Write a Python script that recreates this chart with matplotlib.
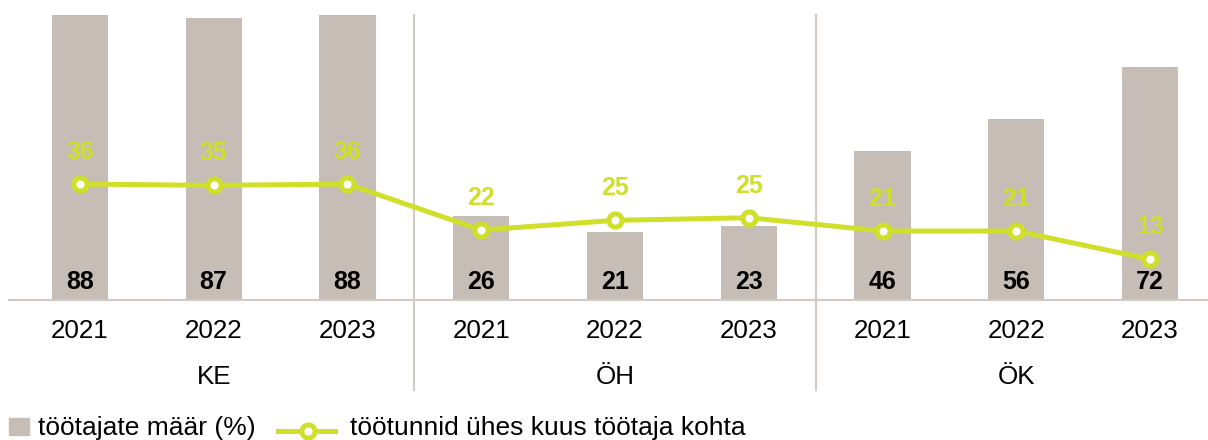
import matplotlib
matplotlib.use('Agg')
import matplotlib.pyplot as plt
import matplotlib.transforms as mtransforms
from matplotlib.lines import Line2D
from matplotlib.patches import Rectangle

plt.rcParams['font.family'] = ['Liberation Sans', 'DejaVu Sans']

# data
groups = ['KE', 'ÖH', 'ÖK']
years = ['2021', '2022', '2023']
employee_share = [88, 87, 88, 26, 21, 23, 46, 56, 72]
hours_per_employee = [35.8, 35.4, 35.8, 21.6, 24.6, 25.4, 21.3, 21.3, 12.6]
bar_name = 'töötajate määr (%)'
line_name = 'töötunnid ühes kuus töötaja kohta'

bar_color = '#c6bdb6'
line_color = '#cfdf2a'
grid_color = '#d2cbc5'

W, H = 1208, 440
fig = plt.figure(figsize=(W / 100, H / 100), dpi=100)
# axes: baseline at y=300px, top at 15px, x from 13px to 1217px
ax = fig.add_axes([13 / W, (H - 300) / H, (1217 - 13) / W, 285 / H])

x = list(range(len(employee_share)))
ax.bar(x, employee_share, width=0.42, color=bar_color, zorder=1)
ax.plot(x, hours_per_employee, color=line_color, lw=3.6, marker='o', ms=9.5,
        mfc='white', mec=line_color, mew=3.6, zorder=3)

for xi, v in zip(x, employee_share):
    ax.text(xi, 5.6, f'{v}', ha='center', va='center', fontsize=18,
            fontweight='bold', color='black', zorder=4)
for xi, v in zip(x, hours_per_employee):
    ax.annotate(f'{v:.0f}', (xi, v), xytext=(0, 23), textcoords='offset points',
                ha='center', va='center', fontsize=18, fontweight='bold',
                color=line_color, zorder=4)

ax.set_xlim(-0.5, 8.5)
ax.set_ylim(0, 88)
for s in ['top', 'right', 'left']:
    ax.spines[s].set_visible(False)
ax.spines['bottom'].set_color(grid_color)
ax.spines['bottom'].set_linewidth(1.5)
ax.set_xticks([])
ax.set_yticks([])

trans = mtransforms.blended_transform_factory(ax.transData, ax.transAxes)
# baseline extends slightly left of the axes
ax.plot([-0.53, -0.5], [0, 0], color=grid_color, lw=1.5, transform=trans, clip_on=False)
for sep in [2.5, 5.5]:
    ax.plot([sep, sep], [1.0, -0.316], color=grid_color, lw=1.5,
            transform=trans, clip_on=False)

for gi, g in enumerate(groups):
    for yi, y in enumerate(years):
        ax.text(gi * 3 + yi, -0.109, y, transform=trans, ha='center', va='center',
                fontsize=18.7)
    ax.text(gi * 3 + 1, -0.27, g, transform=trans, ha='center', va='center',
            fontsize=18.7)

# legend drawn by hand on the figure
fig.patches.append(Rectangle((9 / W, (H - 435) / H), 20 / W, 17 / H,
                             transform=fig.transFigure, color=bar_color))
fig.text(38 / W, (H - 428) / H, bar_name, ha='left', va='center', fontsize=19)
fig.lines.append(Line2D([278 / W, 335 / W], [(H - 431) / H] * 2,
                        transform=fig.transFigure, color=line_color, lw=3.6))
fig.lines.append(Line2D([308 / W], [(H - 431) / H], transform=fig.transFigure,
                        marker='o', ms=9.5, mfc='white', mec=line_color, mew=3.6))
fig.text(350 / W, (H - 428) / H, line_name, ha='left', va='center', fontsize=19)

fig.savefig('out.png', dpi=100)
